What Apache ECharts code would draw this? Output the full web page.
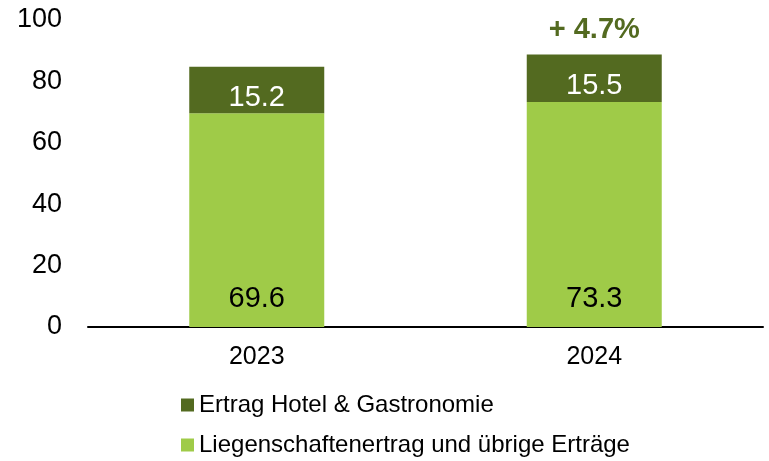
<!doctype html>
<html>
<head>
    <meta charset="UTF-8">
    <title>Ertrag</title>
    <script src="https://cdn.jsdelivr.net/npm/echarts@6/dist/echarts.min.js"></script>
</head>
<body style="margin: 0">
<div id="main" style="width: 769px; height: 461px;"></div>
<script type="text/javascript">
    var years = ['2023', '2024'];
    var liegenschaften = [69.6, 73.3];
    var hotel = [15.2, 15.5];
    var growthLabel = '+ 4.7%';

    var myChart = echarts.init(document.getElementById('main'));
    var font = 'Liberation Sans, Arial, sans-serif';

    var option = {
        animation: false,
        textStyle: {fontFamily: font},
        grid: {left: 88, right: 6, top: 20, bottom: 134},
        legend: {
            orient: 'vertical',
            left: 181,
            top: 393,
            padding: 0,
            itemGap: 16,
            itemWidth: 13,
            itemHeight: 13,
            icon: 'rect',
            data: ['Ertrag Hotel & Gastronomie', 'Liegenschaftenertrag und übrige Erträge'],
            textStyle: {fontSize: 24, color: '#000', fontFamily: font}
        },
        xAxis: {
            type: 'category',
            data: years,
            axisLine: {lineStyle: {color: '#000', width: 2}},
            axisTick: {show: false},
            axisLabel: {fontSize: 25, color: '#000', margin: 18}
        },
        yAxis: {
            type: 'value',
            min: 0,
            max: 100,
            interval: 20,
            splitLine: {show: false},
            axisLine: {show: false},
            axisLabel: {fontSize: 27, color: '#000', margin: 26}
        },
        series: [
            {
                name: 'Liegenschaftenertrag und übrige Erträge',
                type: 'bar',
                stack: 'total',
                barWidth: '40%',
                data: liegenschaften,
                itemStyle: {color: '#9FCB48'},
                label: {
                    show: true,
                    position: 'insideBottom',
                    distance: 14,
                    fontSize: 29,
                    color: '#000'
                }
            },
            {
                name: 'Ertrag Hotel & Gastronomie',
                type: 'bar',
                stack: 'total',
                barWidth: '40%',
                data: hotel,
                itemStyle: {color: '#536A20'},
                label: {
                    show: true,
                    position: 'inside',
                    offset: [0, 8],
                    fontSize: 29,
                    color: '#fff'
                },
                markPoint: {
                    symbol: 'rect',
                    symbolSize: 1,
                    itemStyle: {color: 'rgba(0,0,0,0)'},
                    data: [{
                        coord: [years[1], liegenschaften[1] + hotel[1]],
                        label: {
                            show: true,
                            formatter: growthLabel,
                            position: 'top',
                            distance: 9,
                            fontSize: 29,
                            fontWeight: 'bold',
                            color: '#536A20'
                        }
                    }]
                }
            }
        ]
    };
    myChart.setOption(option);
</script>
</body>
</html>
